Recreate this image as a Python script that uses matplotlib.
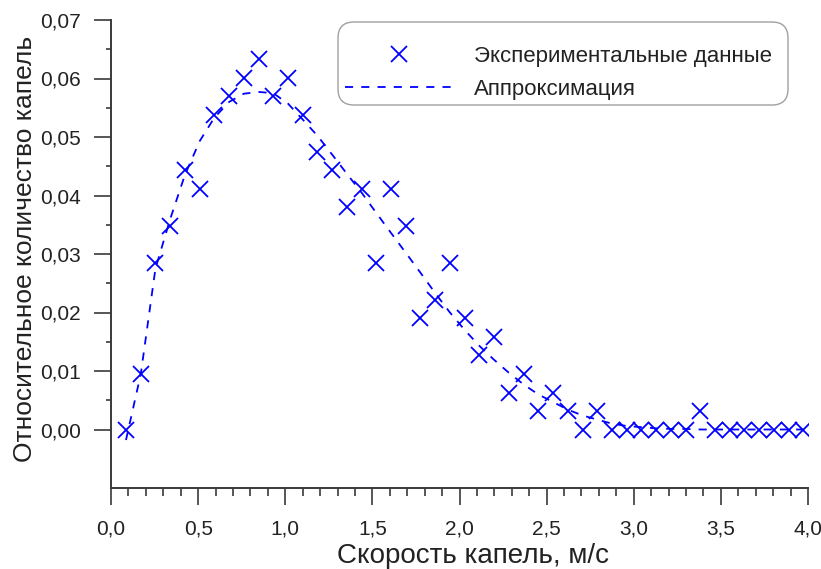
import matplotlib
matplotlib.use("Agg")
import matplotlib.pyplot as plt
from matplotlib.ticker import FixedLocator, MultipleLocator, FuncFormatter
from matplotlib.patches import FancyBboxPatch

plt.rcParams['font.family'] = ['Liberation Sans', 'DejaVu Sans']

# --- data -------------------------------------------------------------
speed = [0.086, 0.171, 0.255, 0.340, 0.424, 0.509, 0.593, 0.678, 0.762, 0.847,
         0.931, 1.016, 1.100, 1.185, 1.269, 1.354, 1.438, 1.523, 1.607, 1.692,
         1.776, 1.861, 1.945, 2.030, 2.114, 2.199, 2.283, 2.368, 2.452, 2.537,
         2.621, 2.706, 2.790, 2.875, 2.959, 3.044, 3.128, 3.213, 3.297, 3.382,
         3.466, 3.551, 3.635, 3.720, 3.804, 3.889, 3.973]

experiment = [0.0000, 0.0095, 0.0285, 0.0348, 0.0443, 0.0411, 0.0538, 0.0570, 0.0601, 0.0633,
              0.0570, 0.0601, 0.0538, 0.0475, 0.0443, 0.0380, 0.0411, 0.0285, 0.0411, 0.0348,
              0.0190, 0.0222, 0.0285, 0.0190, 0.0127, 0.0158, 0.0063, 0.0095, 0.0032, 0.0063,
              0.0032, 0.0000, 0.0032, 0.0000, 0.0000, 0.0000, 0.0000, 0.0000, 0.0000, 0.0032,
              0.0000, 0.0000, 0.0000, 0.0000, 0.0000, 0.0000, 0.0000]

approx = [-0.0018, 0.0095, 0.0275, 0.0360, 0.0435, 0.0493, 0.0533, 0.0560, 0.0574, 0.0577,
          0.0575, 0.0557, 0.0530, 0.0502, 0.0470, 0.0437, 0.0405, 0.0370, 0.0336, 0.0302,
          0.0268, 0.0233, 0.0200, 0.0170, 0.0143, 0.0119, 0.0097, 0.0077, 0.0060, 0.0047,
          0.0034, 0.0024, 0.0017, 0.0010, 0.0006, 0.0004, 0.0002, 0.0001, 0.0001, 0.0000,
          0.0000, 0.0000, 0.0000, 0.0000, 0.0000, 0.0000, 0.0000]

label_exp = "Экспериментальные данные"
label_fit = "Аппроксимация"
xlabel = "Скорость капель, м/с"
ylabel = "Относительное количество капель"

y_major = [0.00, 0.01, 0.02, 0.03, 0.04, 0.05, 0.06, 0.07]
y_minor = [0.005, 0.015, 0.025, 0.035, 0.045, 0.055, 0.065]

# --- figure -----------------------------------------------------------
W, H = 821, 569
fig = plt.figure(figsize=(W / 100, H / 100), dpi=100)
ax = fig.add_axes([111 / W, 1 - 488 / H, (808 - 111) / W, (488 - 20) / H])

blue = '#0000FF'
ax.plot(speed, experiment, linestyle='none', marker='x', color=blue,
        markersize=12, markeredgewidth=1.3, label=label_exp, zorder=3)
ax.plot(speed, approx, linestyle=(0, (4.5, 4.5)), color=blue,
        linewidth=1.3, label=label_fit, zorder=2)

ax.set_xlim(0, 4.0)
ax.set_ylim(-0.01, 0.07)

for s in ['top', 'right']:
    ax.spines[s].set_visible(False)
spine_col = '#3a3a3a'
for s in ['left', 'bottom']:
    ax.spines[s].set_color(spine_col)
    ax.spines[s].set_linewidth(1.4)

ax.xaxis.set_major_locator(MultipleLocator(0.5))
ax.xaxis.set_minor_locator(MultipleLocator(0.1))
ax.yaxis.set_major_locator(FixedLocator(y_major))
ax.yaxis.set_minor_locator(FixedLocator(y_minor))
ax.xaxis.set_major_formatter(FuncFormatter(lambda v, p: f"{v:.1f}".replace('.', ',')))
ax.yaxis.set_major_formatter(FuncFormatter(lambda v, p: f"{v:.2f}".replace('.', ',')))

ax.tick_params(axis='both', which='major', direction='out', length=12.5, width=1.2,
               color=spine_col, labelsize=15, labelcolor='#222222')
ax.tick_params(axis='x', which='major', pad=10)
ax.tick_params(axis='y', which='major', pad=9)
ax.tick_params(axis='x', which='minor', direction='out', length=5.5, width=1.2, color=spine_col)
ax.tick_params(axis='y', which='minor', direction='out', length=3.5, width=1.2, color=spine_col)

ax.set_xlabel(xlabel, fontsize=20, color='#222222')
ax.xaxis.set_label_coords((473 - 111) / 697, -0.117)
ax.set_ylabel(ylabel, fontsize=19, color='#222222')
ax.yaxis.set_label_coords(-(111 - 37) / 697, (488 - 249) / 468)

# legend frame (rounded) drawn in inches, behind the legend entries
frame = FancyBboxPatch((338 / 100, (H - 105) / 100), 450 / 100, 83 / 100,
                       boxstyle='round,pad=0,rounding_size=0.16',
                       transform=fig.dpi_scale_trans, facecolor='white',
                       edgecolor='#a0a0a0', linewidth=1.0, zorder=5, clip_on=False)
ax.add_patch(frame)

leg = ax.legend(loc='upper left', bbox_to_anchor=(345 / 100, (H - 46) / 100),
                bbox_transform=fig.dpi_scale_trans, frameon=False,
                fontsize=16, handlelength=4.9, handletextpad=0.9,
                borderpad=0, borderaxespad=0, labelspacing=0.55, numpoints=1)
leg.set_zorder(6)
for t in leg.get_texts():
    t.set_color('#222222')

fig.savefig('out.png', dpi=100)
